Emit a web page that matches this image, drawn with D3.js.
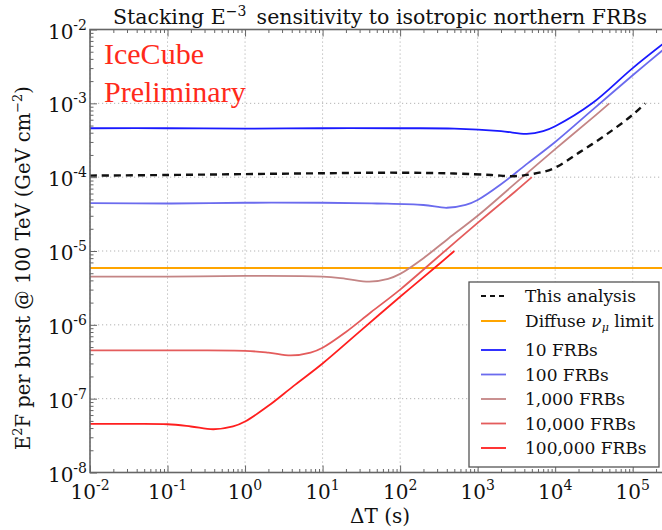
<!DOCTYPE html>
<html><head><meta charset="utf-8">
<script src="https://cdn.jsdelivr.net/npm/d3@7"></script>
<style>body{margin:0;background:#fff}svg{display:block}</style>
</head><body>
<script>
// ---- data ----
const xTickExps = [-2,-1,0,1,2,3,4,5];
const yTickExps = [-8,-7,-6,-5,-4,-3,-2];
const diffuseLimit = 5.9e-6;
const thisAnalysis = [[0.01,1.05e-4],[0.1,1.07e-4],[1,1.1e-4],[10,1.13e-4],[100,1.15e-4],[500,1.12e-4],[1500,1.07e-4],[2900,1.03e-4],[5000,1.1e-4],[9300,1.3e-4],[2.1e4,2.2e-4],[4.6e4,3.8e-4],[1e5,7.0e-4],[1.45e5,1.0e-3]];
const frb10 = [[0.01,4.6e-4],[0.1,4.6e-4],[1,4.55e-4],[10,4.6e-4],[100,4.6e-4],[500,4.55e-4],[2000,4.2e-4],[4300,3.85e-4],[7000,4.2e-4],[1e4,4.9e-4],[3e4,1.0e-3],[1e5,3.0e-3],[3e5,7.5e-3]];
const frb100 = [[0.01,4.45e-5],[0.1,4.4e-5],[1,4.5e-5],[10,4.5e-5],[50,4.4e-5],[200,4.2e-5],[400,3.85e-5],[700,4.2e-5],[1000,4.9e-5],[2000,8.0e-5],[4200,1.48e-4],[1e4,3.0e-4],[3e4,8.1e-4],[1e5,2.4e-3],[3e5,6.3e-3]];
const frb1000 = [[0.01,4.5e-6],[0.1,4.5e-6],[1,4.6e-6],[10,4.5e-6],[20,4.2e-6],[40,3.85e-6],[70,4.2e-6],[100,4.9e-6],[200,8.0e-6],[420,1.48e-5],[1000,3.0e-5],[3000,8.1e-5],[1e4,2.4e-4],[3e4,6.3e-4],[5e4,1.0e-3]];
const frb10000 = [[0.01,4.5e-7],[0.1,4.5e-7],[1,4.45e-7],[2,4.2e-7],[3.9,3.85e-7],[7,4.2e-7],[10,4.9e-7],[20,8.0e-7],[42,1.48e-6],[100,3.0e-6],[300,8.1e-6],[1000,2.4e-5],[3000,6.3e-5],[5000,1.0e-4]];
const frb100000 = [[0.01,4.55e-8],[0.03,4.55e-8],[0.1,4.5e-8],[0.2,4.2e-8],[0.39,3.85e-8],[0.7,4.2e-8],[1,4.9e-8],[2,8.0e-8],[4.2,1.48e-7],[10,3.0e-7],[30,8.1e-7],[100,2.4e-6],[300,6.3e-6],[500,1.0e-5]];
const seriesNames = ["10 FRBs","100 FRBs","1,000 FRBs","10,000 FRBs","100,000 FRBs"];
const seriesColors = ["#1a1aff","#6b6bee","#c48585","#e45c5c","#ff1f1f"];
const seriesData = [frb10, frb100, frb1000, frb10000, frb100000];

// ---- layout ----
const W = 662, H = 530;
const m = {l: 90, t: 29.5, b: 472.5};
const serif = "'DejaVu Serif', serif";
const svg = d3.select("body").append("svg").attr("width", W).attr("height", H);

const x = d3.scaleLog().domain([1e-2, 3e5]).range([m.l, m.l + 77.53*Math.log10(3e7)]);
const y = d3.scaleLog().domain([1e-8, 1e-2]).range([m.b, m.t]);
const xR = x.range()[1];

svg.append("clipPath").attr("id","c").append("rect")
  .attr("x", m.l).attr("y", m.t).attr("width", xR - m.l).attr("height", m.b - m.t);

// grid
const grid = svg.append("g");
xTickExps.forEach(e => grid.append("line").attr("x1", x(10**e)).attr("x2", x(10**e))
  .attr("y1", m.t).attr("y2", m.b).attr("stroke", "#aaa").attr("stroke-width", 0.9).attr("stroke-dasharray","1.2,2.8"));
yTickExps.forEach(e => grid.append("line").attr("y1", y(10**e)).attr("y2", y(10**e))
  .attr("x1", m.l).attr("x2", xR).attr("stroke", "#aaa").attr("stroke-width", 0.9).attr("stroke-dasharray","1.2,2.8"));

// minor/major ticks (inside) via d3 axes
const xMinor = [], yMinor = [];
for (let e = -2; e <= 5; e++) for (let k = 2; k <= 9; k++) { const v = k*10**e; if (v <= 3e5) xMinor.push(v); }
for (let e = -8; e < -2; e++) for (let k = 2; k <= 9; k++) yMinor.push(k*10**e);
const xMajor = xTickExps.map(e => 10**e), yMajor = yTickExps.map(e => 10**e);
const tickStroke = "#666";
function axisG(axisGen, tr){ const g = svg.append("g").attr("transform", tr).call(axisGen);
  g.select(".domain").remove(); g.selectAll("text").remove(); g.selectAll("line").attr("stroke", tickStroke).attr("stroke-width", 1); return g; }
axisG(d3.axisBottom(x).tickValues(xMajor).tickSize(-7), `translate(0,${m.b})`);
axisG(d3.axisBottom(x).tickValues(xMinor).tickSize(-3.5), `translate(0,${m.b})`);
axisG(d3.axisTop(x).tickValues(xMajor).tickSize(-7), `translate(0,${m.t})`);
axisG(d3.axisTop(x).tickValues(xMinor).tickSize(-3.5), `translate(0,${m.t})`);
axisG(d3.axisLeft(y).tickValues(yMajor).tickSize(-7), `translate(${m.l},0)`);
axisG(d3.axisLeft(y).tickValues(yMinor).tickSize(-3.5), `translate(${m.l},0)`);

// series
const plot = svg.append("g").attr("clip-path","url(#c)");
const line = d3.line().x(d => x(d[0])).y(d => y(d[1])).curve(d3.curveCatmullRom.alpha(0.5));
plot.append("path").datum([[1e-2, diffuseLimit],[3e5, diffuseLimit]]).attr("d", line)
  .attr("fill","none").attr("stroke","#ffa500").attr("stroke-width",2);
seriesData.forEach((s,i) => plot.append("path").datum(s).attr("d", line)
  .attr("fill","none").attr("stroke", seriesColors[i]).attr("stroke-width", 1.8));
plot.append("path").datum(thisAnalysis).attr("d", line)
  .attr("fill","none").attr("stroke","#111").attr("stroke-width",2.4).attr("stroke-dasharray","7,5");

// frame
svg.append("rect").attr("x", m.l).attr("y", m.t).attr("width", xR - m.l).attr("height", m.b - m.t)
  .attr("fill","none").attr("stroke","#666").attr("stroke-width",1.6);

// tick labels
function powLabel(g, e, xx, yy, anchor){
  const t = g.append("text").attr("x", xx).attr("y", yy).attr("text-anchor", anchor)
    .attr("font-family", serif).attr("font-size", 20).attr("fill","#111");
  t.append("tspan").text("10");
  t.append("tspan").attr("dy", -9).attr("font-size", 14).text(String(e));
}
const lab = svg.append("g");
xTickExps.forEach(e => powLabel(lab, e, x(10**e), 499, "middle"));
yTickExps.forEach(e => powLabel(lab, e, 87, y(10**e) + 9, "end"));

// title
const title = svg.append("text").attr("x", 380).attr("y", 24).attr("text-anchor","middle")
  .attr("font-family", serif).attr("font-size", 20.5).attr("fill","#111");
title.append("tspan").text("Stacking E");
title.append("tspan").attr("dy", -8).attr("font-size", 14).text("\u22123");
title.append("tspan").attr("dy", 8).text("\u2002sensitivity to isotropic northern FRBs");

// axis labels
svg.append("text").attr("x", 380).attr("y", 523).attr("text-anchor","middle")
  .attr("font-family", serif).attr("font-size", 20).attr("fill","#111").text("\u0394T (s)");
const yl = svg.append("text").attr("transform","translate(30,268) rotate(-90)").attr("text-anchor","middle")
  .attr("font-family", serif).attr("font-size", 19.5).attr("fill","#111");
yl.append("tspan").text("E");
yl.append("tspan").attr("dy",-8).attr("font-size",13).text("2");
yl.append("tspan").attr("dy",8).text("F per burst @ 100 TeV (GeV cm");
yl.append("tspan").attr("dy",-8).attr("font-size",13).text("\u22122");
yl.append("tspan").attr("dy",8).text(")");

// IceCube Preliminary
svg.append("text").attr("x",104).attr("y",64).attr("font-family","'Liberation Serif', serif")
  .attr("font-size",30).attr("fill","#ff2a1a").text("IceCube");
svg.append("text").attr("x",104).attr("y",102).attr("font-family","'Liberation Serif', serif")
  .attr("font-size",30).attr("fill","#ff2a1a").text("Preliminary");

// legend
const lg = svg.append("g");
lg.append("rect").attr("x",469).attr("y",282).attr("width",190).attr("height",185)
  .attr("fill","#fff").attr("stroke","#555").attr("stroke-width",1.3);
const legendItems = [
  {name:"This analysis", color:"#111", dash:"5,4", w:2.2, yy:296},
  {name:"Diffuse \u03bd", sub:"\u03bc", after:" limit", color:"#ffa500", w:2, yy:321},
  ...seriesNames.map((n,i) => ({name:n, color:seriesColors[i], w:1.8, yy:350 + i*24.5}))
];
legendItems.forEach(it => {
  lg.append("line").attr("x1",481).attr("x2",506).attr("y1",it.yy).attr("y2",it.yy)
    .attr("stroke",it.color).attr("stroke-width",it.w).attr("stroke-dasharray", it.dash || null);
  const t = lg.append("text").attr("x",525).attr("y",it.yy+6).attr("font-family",serif)
    .attr("font-size",17).attr("fill","#111");
  if (it.sub) {
    t.append("tspan").text("Diffuse ");
    t.append("tspan").attr("font-style","italic").text("\u03bd");
    t.append("tspan").attr("dy",4).attr("font-size",11).attr("font-style","italic").text(it.sub);
    t.append("tspan").attr("dy",-4).text(it.after);
  } else t.text(it.name);
});
</script>
</body></html>
